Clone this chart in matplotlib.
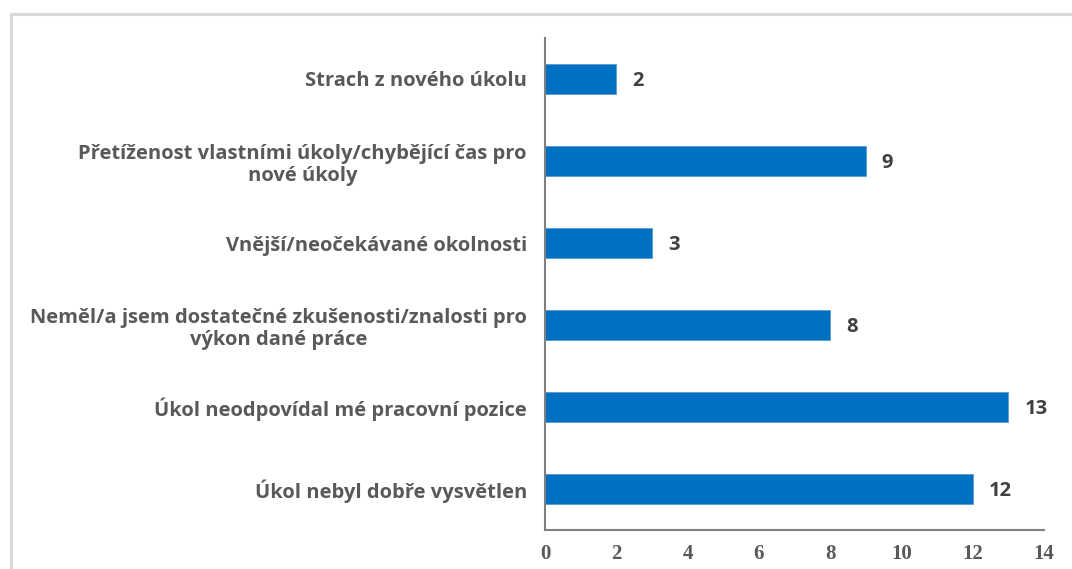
import matplotlib.pyplot as plt
from matplotlib.lines import Line2D

categories = [
    "Úkol nebyl dobře vysvětlen",
    "Úkol neodpovídal mé pracovní pozice",
    "Neměl/a jsem dostatečné zkušenosti/znalosti pro\nvýkon dané práce",
    "Vnější/neočekávané okolnosti",
    "Přetíženost vlastními úkoly/chybějící čas pro\nnové úkoly",
    "Strach z nového úkolu",
]
values = [12, 13, 8, 3, 9, 2]
xticks = [0, 2, 4, 6, 8, 10, 12, 14]

W, H = 1072, 569
fig = plt.figure(figsize=(W / 100, H / 100), dpi=100)
ax = fig.add_axes([545 / W, 1 - 530 / H, (1044 - 545) / W, (530 - 38) / H])

bars = ax.barh(range(len(categories)), values, height=0.36, color="#0070c0",
               edgecolor="#5b9bd5", linewidth=0.6)

for bar, v in zip(bars, values):
    ax.text(bar.get_width() + 0.45, bar.get_y() + bar.get_height() / 2, str(v),
            va="center_baseline", ha="left", fontsize=14.5, fontweight="bold",
            color="#404040", family="Open Sans")

ax.set_xlim(0, 14)
ax.set_ylim(-0.5, len(categories) - 0.5)
ax.set_xticks(xticks)
ax.set_xticklabels([str(t) for t in xticks], family="Liberation Serif",
                   fontsize=15, fontweight="bold", color="#595959")
ax.set_yticks(range(len(categories)))
ax.set_yticklabels(categories, family="Open Sans", fontsize=14.5,
                   fontweight="bold", color="#595959",
                   multialignment="center", linespacing=1.2)
ax.tick_params(axis="both", length=0)
ax.tick_params(axis="x", pad=10)
ax.tick_params(axis="y", pad=13)

for side in ["top", "right"]:
    ax.spines[side].set_visible(False)
for side in ["left", "bottom"]:
    ax.spines[side].set_color("#808080")
    ax.spines[side].set_linewidth(1.5)

# light frame around the chart area (top and left edges)
fig.add_artist(Line2D([11 / W, 11 / W, 1.0], [0.0, 1 - 14 / H, 1 - 14 / H],
                      color="#d9d9d9", linewidth=2.2, transform=fig.transFigure))

fig.savefig("out.png", dpi=100)
